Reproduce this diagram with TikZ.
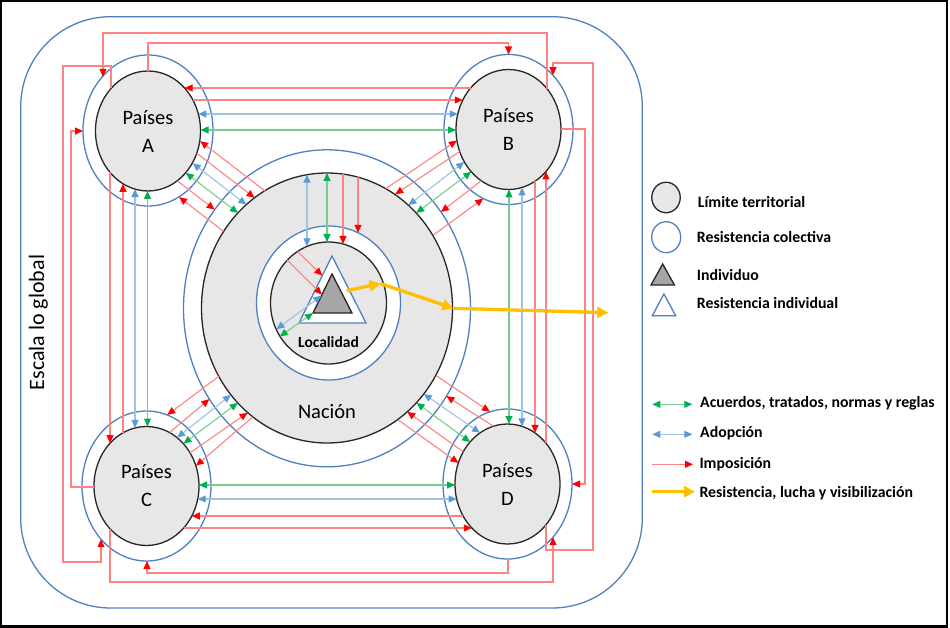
\documentclass[tikz,border=0pt]{standalone}
\usepackage{fontspec}
\setmainfont{Carlito}
\usetikzlibrary{arrows.meta,shapes.geometric}
\definecolor{ringblue}{RGB}{79,129,189}
\definecolor{edgeblack}{RGB}{38,38,38}
\definecolor{areagray}{RGB}{231,231,231}
\definecolor{indgray}{RGB}{166,166,166}
\definecolor{impline}{RGB}{255,130,130}
\definecolor{imptip}{RGB}{255,0,0}
\definecolor{adoline}{RGB}{157,195,230}
\definecolor{adotip}{RGB}{91,155,213}
\definecolor{aculine}{RGB}{120,204,145}
\definecolor{acutip}{RGB}{0,176,80}
\definecolor{resyellow}{RGB}{255,192,0}
\begin{document}
\begin{tikzpicture}[x=1pt,y=-1pt,
  imp/.style={draw=impline,line width=1.1pt,-{Triangle[length=8pt,width=7pt,color=imptip]}},
  ado/.style={draw=adoline,line width=1.1pt,{Triangle[length=8pt,width=7pt,color=adotip]}-{Triangle[length=8pt,width=7pt,color=adotip]}},
  acu/.style={draw=aculine,line width=1.1pt,{Triangle[length=8pt,width=7pt,color=acutip]}-{Triangle[length=8pt,width=7pt,color=acutip]}},
  res/.style={draw=resyellow,line width=3.3pt,-{Triangle[length=11pt,width=11pt]}},
  limite/.style={ellipse,draw=edgeblack,fill=areagray,line width=1.3pt,inner sep=0pt,outer sep=0pt,
     minimum width=105pt,minimum height=120pt,align=center,font=\fontsize{20.5}{28}\selectfont},
  colectiva/.style={ellipse,draw=ringblue,line width=1.3pt,inner sep=0pt,outer sep=0pt,
     minimum width=129pt,minimum height=150pt},
  legtext/.style={anchor=base west,inner sep=0pt,font=\fontsize{15.8}{19}\selectfont\bfseries}]
\useasboundingbox (0,0) rectangle (950,628);
\fill[white] (0,0) rectangle (950,628);
\draw[black,line width=2.2pt] (0.9,0.9) rectangle (946.7,626.4);
% global scale
\draw[ringblue,line width=1.3pt,rounded corners=90pt] (20.7,16.7) rectangle (642.3,608);
\node[rotate=90,inner sep=0pt,font=\fontsize{22}{26}\selectfont] (escala) at (38.5,322.5) {Escala lo global};
% countries: collective resistance rings
\node[colectiva,minimum width=130pt,minimum height=151pt] (Ar) at (148,130.5) {};
\node[colectiva] (Br) at (508.5,129.5) {};
\node[colectiva] (Cr) at (146.5,486) {};
\node[colectiva] (Dr) at (507.5,484) {};
% countries: territorial limits
\node[limite] (A) at (148,131) {Países\\A};
\node[limite] (B) at (508.5,129.5) {Países\\B};
\node[limite,minimum height=119pt] (C) at (146.5,486) {Países\\C};
\node[limite] (D) at (507.5,484) {Países\\D};
% nation
\node[colectiva,minimum width=287pt,minimum height=317pt] (Nr) at (327,308.3) {};
\node[limite,minimum width=251pt,minimum height=270pt] (N) at (327,308) {};
\node[anchor=base,inner sep=0pt,font=\fontsize{20.5}{24}\selectfont] (Nt) at (327,418.5) {Nación};
% locality
\node[colectiva,fill=white,minimum width=144pt,minimum height=154pt] (Lr) at (328.5,303) {};
\node[limite,minimum width=116pt,minimum height=122pt] (L) at (328.5,303) {};
\node[anchor=base,inner sep=0pt,font=\fontsize{15.5}{19}\selectfont\bfseries] (Lt) at (328.5,347) {Localidad};
% individual
\draw[ringblue,fill=white,line width=1.3pt] (332,256) -- (299,323) -- (366,323) -- cycle;
\draw[edgeblack,fill=indgray,line width=1.3pt] (332,274) -- (313,313) -- (352,313) -- cycle;

% ---- top routes
\draw[imp] (547,88.7) -- (547,33) -- (103,33) -- (103,76.9);
\draw[imp] (148,71) -- (148,43) -- (508.5,43) -- (508.5,54.5);
\draw[imp] (111,88.4) -- (111,66) -- (63,66) -- (63,562) -- (101,562) -- (101,539.2);
\draw[imp] (94,487) -- (71,487) -- (71,131) -- (83,131);
% ---- A - C
\draw[imp] (110,172.4) -- (110,443.2);
\draw[imp] (123,432.8) -- (123,183.8);
\draw[ado] (135,189.1) -- (135,427.9);
\draw[acu] (147.5,191) -- (147.5,426.5);
\draw[imp] (110,528.8) -- (110,582) -- (553,582) -- (553,537.2);
% ---- C - D
\draw[acu] (199,485) -- (455,485);
\draw[ado] (197.7,499) -- (456.7,499);
\draw[imp] (463.1,516) -- (191.8,516);
\draw[imp] (183.7,528) -- (471.8,528);
\draw[imp] (508,559) -- (508,573) -- (147,573) -- (147,561);
% ---- B - D
\draw[acu] (509,189.5) -- (509,424);
\draw[ado] (522,187.5) -- (522,426.3);
\draw[imp] (535,181.3) -- (535,432.9);
\draw[imp] (546,443.2) -- (546,171.5);
\draw[imp] (561,129) -- (585,129) -- (585,484) -- (572,484);
\draw[imp] (546,524.8) -- (546,550) -- (593,550) -- (593,63) -- (553,63) -- (553,75.2);
% ---- A - B
\draw[imp] (470.6,88) -- (184.6,88);
\draw[imp] (192.9,100) -- (462.8,100);
\draw[ado] (198.3,114) -- (457.8,114);
\draw[acu] (200.5,130) -- (456,130);
% ---- nation - locality
\draw[ado] (307,174.7) -- (307,246.3);
\draw[acu] (327,173) -- (327,242);
\draw[imp] (343,174.1) -- (343,244);
\draw[imp] (358,177.2) -- (358,232.8);
% ---- locality - individual
\draw[imp] (287,260) -- (322,294.6);
\draw[imp] (297.5,251.5) -- (322.3,275.6);
\draw[ado] (276.5,329.2) -- (321.4,295.7);
\draw[acu] (279.8,336.5) -- (313,313);
% ---- A - nation
\draw[imp] (265,191) -- (200.2,141.1);
\draw[imp] (196.8,153.3) -- (254.6,197.8);
\draw[ado] (192.7,163.3) -- (246.3,204.6);
\draw[acu] (185.8,172.8) -- (238,213);
\draw[imp] (177.4,180.9) -- (214.6,209.6);
\draw[imp] (223.5,231.3) -- (179.1,197.1);
% ---- B - nation
\draw[imp] (385.7,188.7) -- (456.9,140.5);
\draw[imp] (459.6,151.6) -- (395.2,194.3);
\draw[ado] (464.2,162) -- (408.5,205.2);
\draw[acu] (471.3,171.8) -- (416.2,213);
\draw[imp] (481.2,180.8) -- (441,212);
\draw[imp] (433.3,235) -- (483.3,198.6);
% ---- C - nation
\draw[imp] (218.8,376.3) -- (167.3,414.9);
\draw[imp] (169.5,432.5) -- (209.4,399.1);
\draw[ado] (177.1,437.6) -- (230.9,394.9);
\draw[acu] (183.5,443.6) -- (237.8,402.9);
\draw[imp] (190.1,452.8) -- (247.6,412.7);
\draw[imp] (252.7,417) -- (195.9,465.8);
% ---- D - nation
\draw[imp] (436.7,376) -- (489.9,411.7);
\draw[imp] (493.4,426.2) -- (446.4,396.1);
\draw[ado] (423.8,394) -- (480,432.8);
\draw[acu] (416.5,402.9) -- (470.1,442);
\draw[imp] (463.3,451.7) -- (407.2,411.8);
\draw[imp] (398.3,420) -- (458.4,462.9);
% ---- resistance path
\coordinate (y0) at (346.7,290.7);
\coordinate (y1) at (380.5,283.5);
\coordinate (y2) at (453.3,308.3);
\coordinate (y3) at (608.3,312.7);
\draw[res] (y0) -- (y1);
\draw[res] (y1) -- (y2);
\draw[res] (y2) -- (y3);

% ---- legend
\node[ellipse,draw=edgeblack,fill=areagray,line width=1.3pt,inner sep=0pt,minimum width=28.5pt,minimum height=30.5pt] (lg1) at (666,197.5) {};
\node[ellipse,draw=ringblue,line width=1.3pt,inner sep=0pt,minimum width=29pt,minimum height=31pt] (lg2) at (666.2,237.2) {};
\draw[edgeblack,fill=indgray,line width=1.3pt] (662.7,264) -- (651,285) -- (674.4,285) -- cycle;
\draw[ringblue,fill=white,line width=1.3pt] (663.9,294) -- (652.3,315.7) -- (675.7,315.7) -- cycle;
\node[legtext] (lt1) at (697.7,207.5) {Límite territorial};
\node[legtext] (lt2) at (696.7,242.5) {Resistencia colectiva};
\node[legtext] (lt3) at (696.7,280) {Individuo};
\node[legtext] (lt4) at (696.7,308.5) {Resistencia individual};
\coordinate (la1) at (652.3,404.3); \coordinate (lb1) at (692.3,404.3);
\coordinate (la2) at (652.3,434.3); \coordinate (lb2) at (692.3,434.3);
\coordinate (la3) at (652.3,464.3); \coordinate (lb3) at (693,464.3);
\coordinate (la4) at (652.3,491.7); \coordinate (lb4) at (695,491.7);
\draw[acu] (la1) -- (lb1);
\draw[ado] (la2) -- (lb2);
\draw[imp] (la3) -- (lb3);
\draw[res] (la4) -- (lb4);
\node[legtext] (lt5) at (700,407.5) {Acuerdos, tratados, normas y reglas};
\node[legtext] (lt6) at (700,437.5) {Adopción};
\node[legtext] (lt7) at (699.3,468.5) {Imposición};
\node[legtext] (lt8) at (699.3,497.5) {Resistencia, lucha y visibilización};
\end{tikzpicture}
\end{document}
